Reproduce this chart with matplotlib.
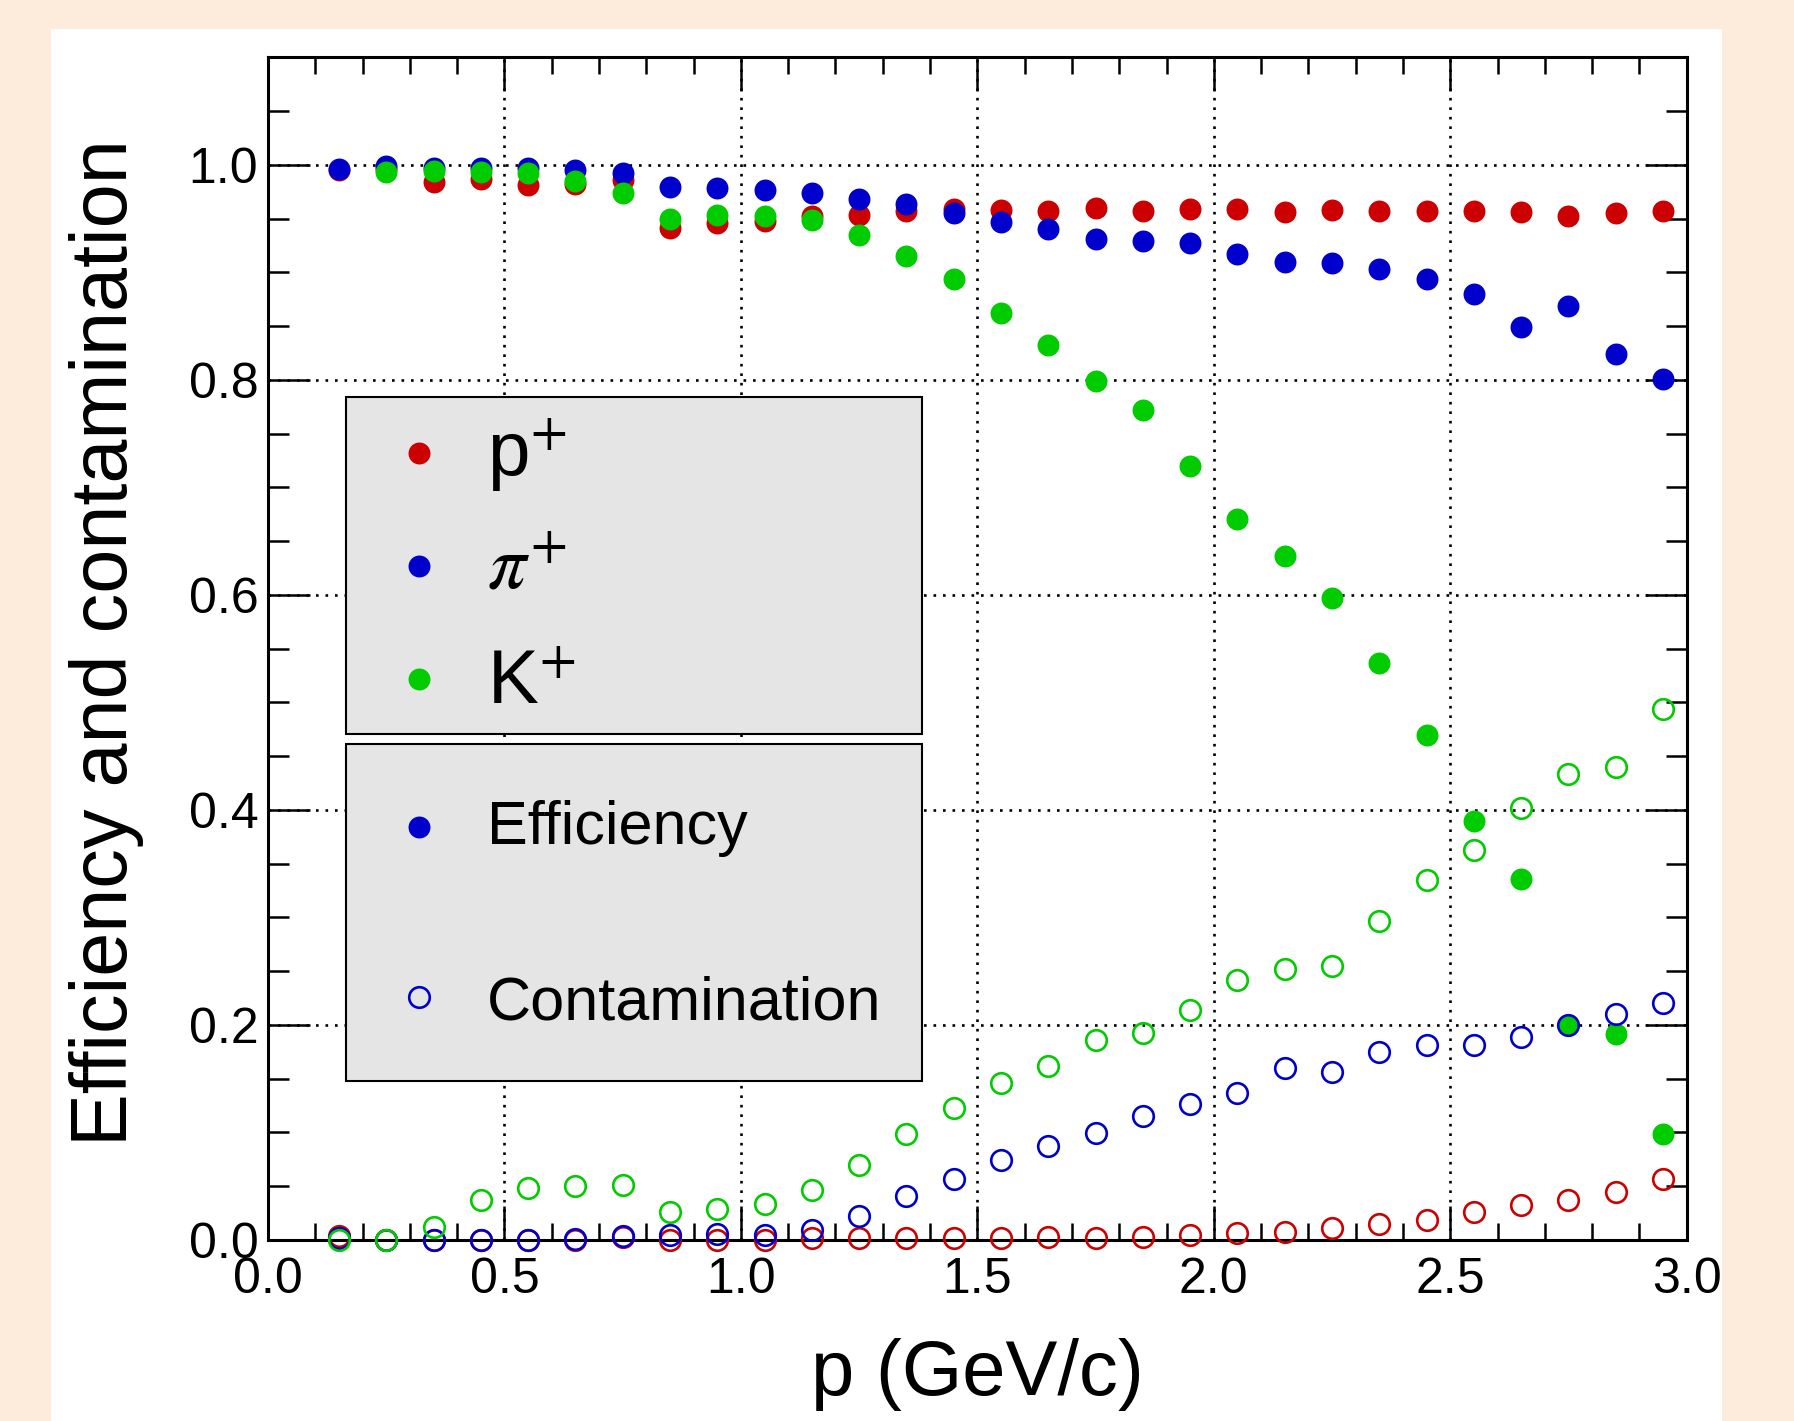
import matplotlib
matplotlib.use("Agg")
import matplotlib.pyplot as plt
from matplotlib.patches import Rectangle
from matplotlib.ticker import MultipleLocator, FormatStrFormatter

plt.rcParams["font.family"] = ["Liberation Sans", "DejaVu Sans"]
plt.rcParams["mathtext.fontset"] = "stix"

# ── data ──────────────────────────────────────────────────────────────────
p_bins = [0.15, 0.25, 0.35, 0.45, 0.55, 0.65, 0.75, 0.85, 0.95, 1.05,
          1.15, 1.25, 1.35, 1.45, 1.55, 1.65, 1.75, 1.85, 1.95, 2.05,
          2.15, 2.25, 2.35, 2.45, 2.55, 2.65, 2.75, 2.85, 2.95]

eff_proton = [0.995, 0.996, 0.984, 0.987, 0.981, 0.982, 0.986, 0.9415, 0.9455, 0.948,
              0.952, 0.953, 0.957, 0.959, 0.958, 0.957, 0.960, 0.957, 0.9585, 0.9585,
              0.956, 0.958, 0.957, 0.957, 0.957, 0.956, 0.952, 0.955, 0.957]
eff_pion = [0.996, 0.999, 0.997, 0.9966, 0.9966, 0.995, 0.9926, 0.979, 0.978, 0.9765,
            0.974, 0.968, 0.9635, 0.955, 0.947, 0.940, 0.9306, 0.929, 0.9276, 0.917,
            0.910, 0.909, 0.9034, 0.894, 0.880, 0.849, 0.869, 0.824, 0.801]
# no kaon efficiency point visible in the first bin
eff_kaon = [float("nan"), 0.9935, 0.9944, 0.9929, 0.992, 0.9848, 0.9737, 0.950, 0.953, 0.952,
            0.949, 0.9347, 0.915, 0.894, 0.862, 0.832, 0.799, 0.772, 0.720, 0.671,
            0.636, 0.597, 0.537, 0.470, 0.390, 0.336, 0.1997, 0.1919, 0.0986]

cont_proton = [0.004, 0.0, 0.0, 0.0, 0.0, 0.0, 0.003, 0.0, 0.0, 0.0,
               0.0015, 0.002, 0.002, 0.002, 0.0016, 0.0025, 0.002, 0.0028, 0.0044, 0.0068,
               0.0075, 0.011, 0.0146, 0.0187, 0.026, 0.033, 0.0376, 0.0442, 0.0566]
cont_pion = [0.002, 0.0, 0.0, 0.0, 0.0, 0.0006, 0.004, 0.0047, 0.006, 0.005,
             0.0094, 0.0225, 0.0406, 0.0569, 0.0748, 0.0875, 0.0995, 0.1154, 0.1266, 0.1369,
             0.160, 0.156, 0.175, 0.181, 0.181, 0.189, 0.1997, 0.210, 0.220]
cont_kaon = [0.0, 0.0, 0.0125, 0.0375, 0.0484, 0.050, 0.0513, 0.0256, 0.0288, 0.0334,
             0.0469, 0.0697, 0.099, 0.1225, 0.146, 0.162, 0.186, 0.1925, 0.214, 0.242,
             0.2516, 0.255, 0.2967, 0.335, 0.363, 0.402, 0.433, 0.440, 0.494]

species_labels = [r"p$^{+}$", r"$\pi^{+}$", r"K$^{+}$"]
kind_labels    = ["Efficiency", "Contamination"]

RED, BLUE, GREEN = "#cc0000", "#0000cc", "#00cc00"
PEACH = "#fdecdb"
LEG_FILL = "#e5e5e5"

MS_FILLED = 15.8
MS_OPEN = 14.8
MEW_OPEN = 1.9

# ── figure ────────────────────────────────────────────────────────────────
W, H = 1794, 1421
fig = plt.figure(figsize=(W / 100, H / 100), dpi=100, facecolor=PEACH)
fig.add_artist(Rectangle((51 / W, 0), (1722 - 51) / W, (H - 29) / H,
                         transform=fig.transFigure, facecolor="white",
                         edgecolor="none", zorder=-10))
ax = fig.add_axes([268 / W, (H - 1240) / H, (1686.7 - 268) / W, (1240 - 57.3) / H])

series = [
    (eff_proton, RED, True), (eff_pion, BLUE, True), (eff_kaon, GREEN, True),
    (cont_proton, RED, False), (cont_pion, BLUE, False), (cont_kaon, GREEN, False),
]
for vals, col, filled in series:
    if filled:
        ax.plot(p_bins, vals, ls="none", marker="o", ms=MS_FILLED, mfc=col,
                mec=col, mew=0, clip_on=False, zorder=3)
    else:
        ax.plot(p_bins, vals, ls="none", marker="o", ms=MS_OPEN, mfc="none",
                mec=col, mew=MEW_OPEN, clip_on=False, zorder=3)

ax.set_xlim(0, 3.0)
ax.set_ylim(0, 1.1)
ax.xaxis.set_major_locator(MultipleLocator(0.5))
ax.xaxis.set_minor_locator(MultipleLocator(0.1))
ax.yaxis.set_major_locator(MultipleLocator(0.2))
ax.yaxis.set_minor_locator(MultipleLocator(0.05))
ax.xaxis.set_major_formatter(FormatStrFormatter("%.1f"))
ax.yaxis.set_major_formatter(FormatStrFormatter("%.1f"))

ax.tick_params(which="both", direction="in", top=True, right=True,
               width=1.8, labelsize=36, colors="black")
ax.tick_params(axis="x", which="major", length=24.5, pad=12)
ax.tick_params(axis="x", which="minor", length=12.2)
ax.tick_params(axis="y", which="major", length=30, pad=7)
ax.tick_params(axis="y", which="minor", length=15)
for sp in ax.spines.values():
    sp.set_linewidth(2.2)

ax.grid(True, which="major", color="black", linestyle=(0, (1, 2.6)), linewidth=1.9)
ax.set_axisbelow(True)

ax.set_xlabel("p (GeV/c)", fontsize=56, va="top")
ax.xaxis.set_label_coords(0.5, -0.0829)
ax.set_ylabel("Efficiency and contamination", fontsize=57)
ax.yaxis.set_label_coords(-0.0875, 0.5055)

# ── legends (two grey boxes, ROOT style) ─────────────────────────────────
BOX_X0, BOX_X1 = 0.0548, 0.4608
KEY_X, TEXT_X = 0.1061, 0.1544


def draw_box(y0, y1):
    ax.add_patch(Rectangle((BOX_X0, y0), BOX_X1 - BOX_X0, y1 - y0,
                           transform=ax.transAxes, facecolor=LEG_FILL,
                           edgecolor="black", lw=1.5, zorder=5, clip_on=False))


def draw_entry(y_key, y_base, label, color, filled, size):
    if filled:
        ax.plot([KEY_X], [y_key], transform=ax.transAxes, ls="none", marker="o",
                ms=MS_FILLED, mfc=color, mec=color, mew=0, zorder=6, clip_on=False)
    else:
        ax.plot([KEY_X], [y_key], transform=ax.transAxes, ls="none", marker="o",
                ms=MS_OPEN, mfc="none", mec=color, mew=MEW_OPEN, zorder=6, clip_on=False)
    ax.text(TEXT_X, y_base, label, transform=ax.transAxes, fontsize=size,
            ha="left", va="baseline", zorder=7)


draw_box(0.4278, 0.7130)
for lab, col, yk, yb in zip(species_labels, [RED, BLUE, GREEN],
                            [0.6652, 0.5699, 0.4746], [0.6468, 0.5513, 0.4538]):
    draw_entry(yk, yb, lab, col, True, 55)

draw_box(0.1347, 0.4194)
for lab, filled, yk, yb in zip(kind_labels, [True, False],
                               [0.3490, 0.2057], [0.3348, 0.1866]):
    draw_entry(yk, yb, lab, BLUE, filled, 44)

fig.savefig("out.png", dpi=100, facecolor=PEACH)
